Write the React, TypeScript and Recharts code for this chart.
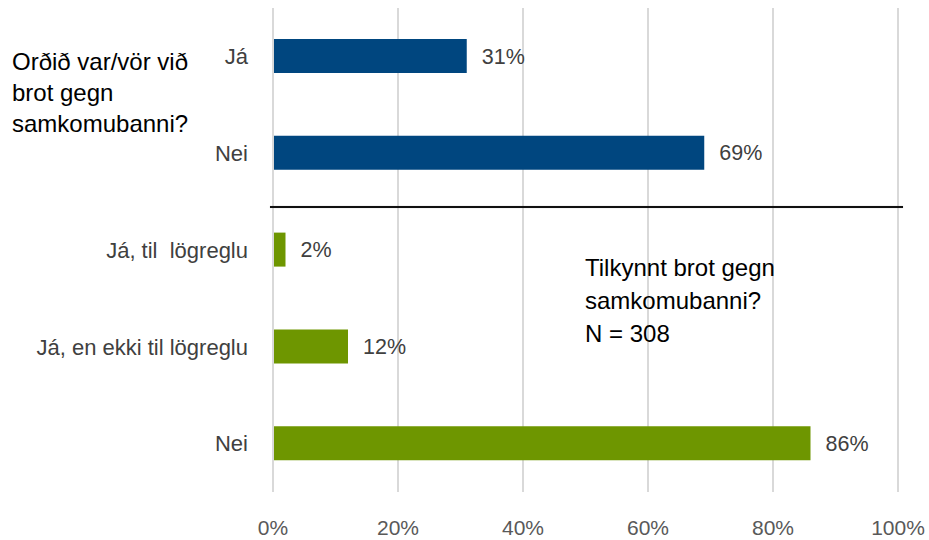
import * as React from 'react';
import { BarChart, Bar, XAxis, YAxis, CartesianGrid, Cell, LabelList } from 'recharts';

// svör (tvær spurningar í sama riti)
const categories = ['Já', 'Nei', 'Já, til\u00a0 lögreglu', 'Já, en ekki til lögreglu', 'Nei'];
const values = [31, 69, 2, 12, 86];
const questionGroup = [0, 0, 1, 1, 1];
const xTicks = [0, 20, 40, 60, 80, 100];

const GROUP_COLORS = ['#00467F', '#6E9600'];
const FONT = '"Liberation Sans Narrow", "Arial Narrow", "Liberation Sans", Arial, sans-serif';

const data = categories.map((c, i) => ({ idx: i, label: c, value: values[i], group: questionGroup[i] }));

const App: React.FC = () => {
    return (
        <div style={{ position: 'absolute', left: 0, top: 0, width: 929, height: 540, background: '#fff', fontFamily: FONT }}>
            <BarChart
                width={929}
                height={540}
                data={data}
                layout="vertical"
                margin={{ top: 8, right: 31, bottom: 0, left: 0 }}
                barSize={34}
            >
                <CartesianGrid horizontal={false} stroke="#d9d9d9" strokeWidth={2} />
                <XAxis
                    type="number"
                    domain={[0, 100]}
                    ticks={xTicks}
                    tickFormatter={(v: number) => `${v}%`}
                    axisLine={false}
                    tickLine={false}
                    tickSize={0}
                    tickMargin={28}
                    height={48}
                    tick={{ fill: '#595959', fontSize: 21, fontFamily: FONT }}
                />
                <YAxis
                    type="category"
                    dataKey="idx"
                    width={273}
                    tickFormatter={(i: number) => categories[i]}
                    axisLine={{ stroke: '#d9d9d9', strokeWidth: 2 }}
                    tickLine={false}
                    tickSize={0}
                    tickMargin={25}
                    tick={{ fill: '#404040', fontSize: 22, fontFamily: FONT }}
                />
                <Bar dataKey="value" isAnimationActive={false}>
                    {data.map((d, i) => <Cell key={`c-${i}`} fill={GROUP_COLORS[d.group]} />)}
                    <LabelList
                        dataKey="value"
                        position="right"
                        offset={15}
                        formatter={(v: number) => `${v}%`}
                        style={{ fill: '#404040', fontSize: 21.5, fontFamily: FONT }}
                    />
                </Bar>
            </BarChart>

            {/* skil milli spurninganna */}
            <div style={{ position: 'absolute', left: 270, top: 206, width: 633, height: 2, background: '#111', boxShadow: '0 0 1px #999' }} />

            <div style={{ position: 'absolute', left: 12, top: 46, fontSize: 24, lineHeight: '31px', color: '#000' }}>
                Orðið var/vör við<br />brot gegn<br />samkomubanni?
            </div>
            <div style={{ position: 'absolute', left: 585, top: 251, fontSize: 24, lineHeight: '33px', color: '#000' }}>
                Tilkynnt brot gegn<br />samkomubanni?<br />N = 308
            </div>
        </div>
    );
};

export default App;
